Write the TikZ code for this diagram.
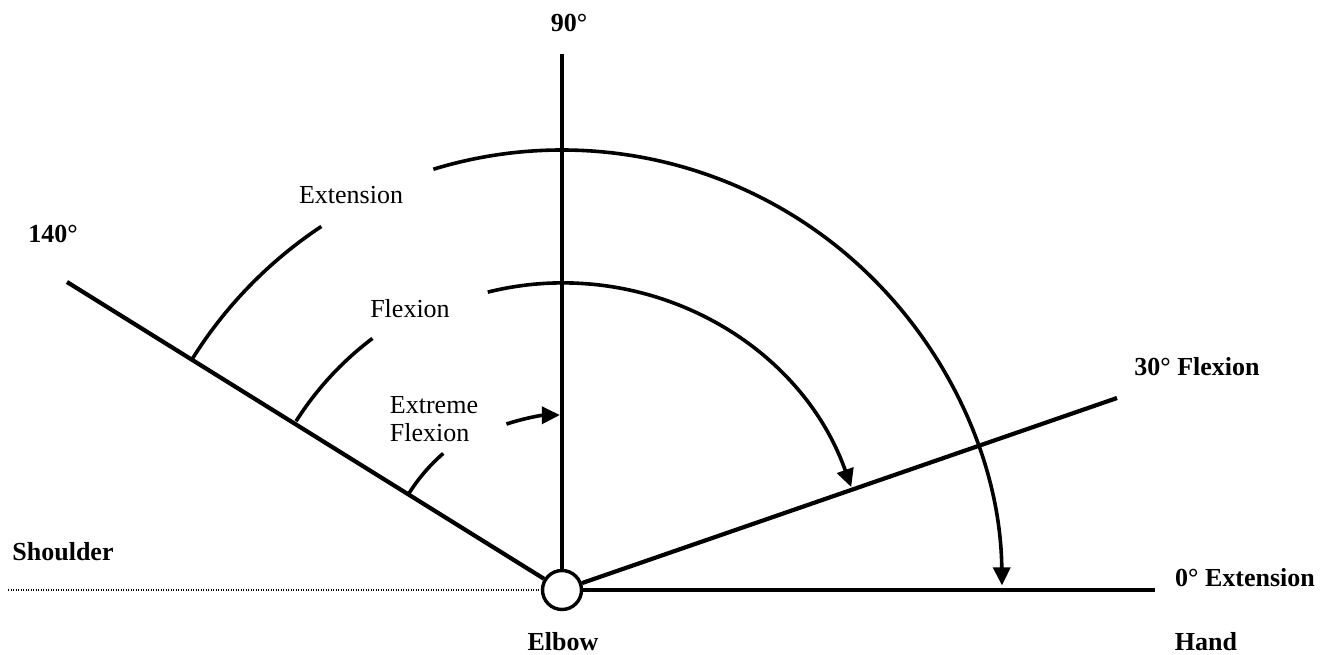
\documentclass[tikz,border=0pt]{standalone}
\usepackage{fontspec}
\setmainfont{Liberation Serif}
\usetikzlibrary{arrows.meta}
\begin{document}
\begin{tikzpicture}[x=0.5pt,y=0.5pt,
  axis/.style={line width=2.1pt},
  arcline/.style={line width=1.8pt},
  tip/.style={-{Triangle[length=9pt,width=8.5pt]}},
  lbl/.style={font=\fontsize{13}{14}\selectfont, inner sep=0pt},
  blbl/.style={font=\fontsize{13}{15}\selectfont\bfseries, inner sep=0pt}]
\path[use as bounding box] (0,0) rectangle (1331,654);
\node[draw, circle, line width=1.7pt, minimum size=19.5pt, inner sep=0pt] (E) at (562,64) {};
\coordinate (top) at (562,600);
\coordinate (hand) at (1155,64);
\coordinate (thirty) at (1117,256);
\coordinate (oneforty) at (67,372);
\coordinate (sh) at (8,64);
\draw[axis] (E) -- (top);
\draw[axis] (E) -- (hand);
\draw[axis] (E) -- (thirty);
\draw[axis] (E) -- (oneforty);
\draw[line width=0.6pt, dash pattern=on 0.5pt off 0.75pt] (sh) -- (E.west);
% Extension
\draw[arcline] ([shift={(148:436)}]E.center) arc[start angle=148, end angle=123.5, radius=436];
\draw[arcline, tip] ([shift={(107:440)}]E.center) arc[start angle=107, end angle=0.6, radius=440];
% Flexion
\draw[arcline] ([shift={(147.6:315)}]E.center) arc[start angle=147.6, end angle=127, radius=315];
\draw[arcline, tip] ([shift={(104:307)}]E.center) arc[start angle=104, end angle=19.6, radius=307];
% Extreme flexion
\draw[arcline] ([shift={(148:181)}]E.center) arc[start angle=148, end angle=131, radius=181];
\draw[arcline, tip] ([shift={(108.5:175)}]E.center) arc[start angle=108.5, end angle=90.7, radius=175];
% labels
\node[blbl] (l90) at (569,631) {90°};
\node[blbl] (l140) at (53,420) {140°};
\node[lbl] (lext) at (351,459) {Extension};
\node[lbl] (lflex) at (410,345) {Flexion};
\node[lbl, align=left] (lextreme) at (434,235) {Extreme\\Flexion};
\node[blbl] (l30) at (1197,287) {30° Flexion};
\node[blbl] (l0) at (1245,76) {0° Extension};
\node[blbl] (lsh) at (63,102) {Shoulder};
\node[blbl] (lelbow) at (563,12) {Elbow};
\node[blbl] (lhand) at (1206,12) {Hand};
\end{tikzpicture}
\end{document}
